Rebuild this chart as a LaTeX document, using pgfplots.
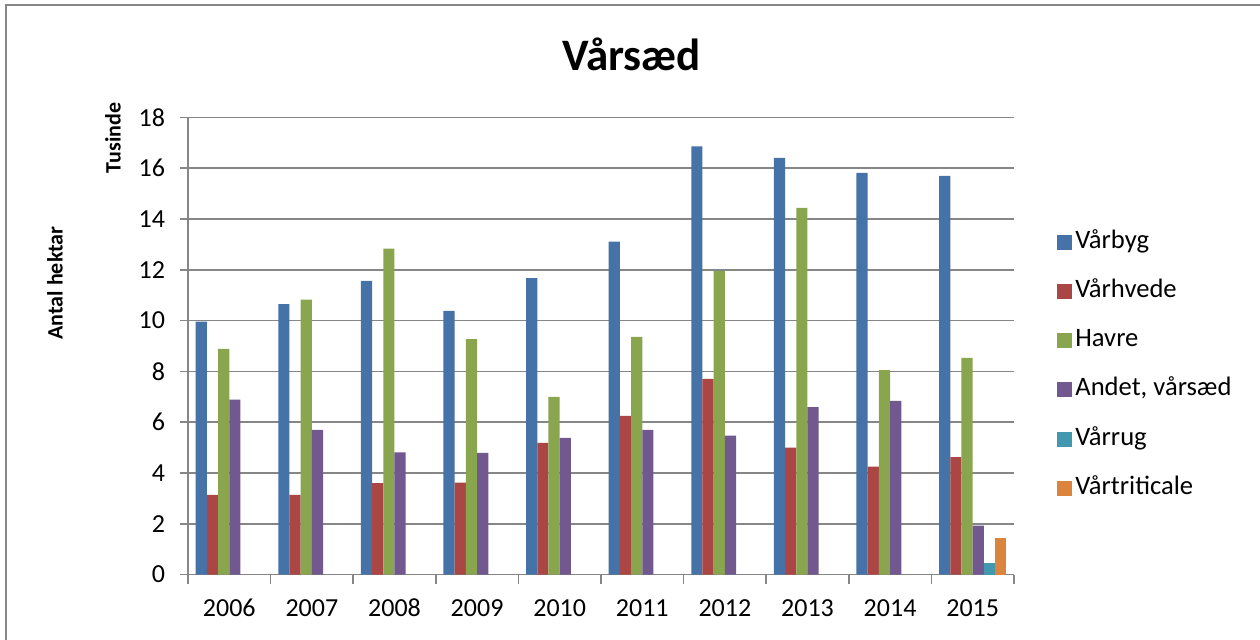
\documentclass[border=0pt]{standalone}
\usepackage{pgfplots}
\pgfplotsset{compat=1.18}
\usepackage{fontspec}
\setmainfont{Carlito}

\definecolor{cBlue}{HTML}{4572A7}
\definecolor{cRed}{HTML}{AA4643}
\definecolor{cGreen}{HTML}{89A54E}
\definecolor{cPurple}{HTML}{71588F}
\definecolor{cTeal}{HTML}{4198AF}
\definecolor{cOrange}{HTML}{DB843D}
\definecolor{cGrid}{HTML}{868686}

\begin{document}
\begin{tikzpicture}
\path[use as bounding box] (0,0) rectangle (630pt,319.5pt);
\draw[cGrid, line width=1pt] (3pt,-2pt) -- (3pt,317pt) -- (632pt,317pt);

\begin{axis}[
    at={(94pt,32.25pt)}, anchor=south west,
    scale only axis,
    width=413pt, height=228.5pt,
    xmin=-0.5, xmax=9.5,
    ymin=0, ymax=18,
    xtick={0,...,9},
    xticklabels={2006,2007,2008,2009,2010,2011,2012,2013,2014,2015},
    minor xtick={-0.5,0.5,...,9.5},
    ytick={0,2,...,18},
    axis x line*=bottom, axis y line*=left,
    axis line style={cGrid, line width=0.8pt, -},
    ymajorgrids, grid style={cGrid, line width=0.8pt},
    tick align=outside,
    major x tick style={draw=none},
    minor x tick style={cGrid, line width=0.8pt},
    y tick style={cGrid, line width=0.8pt},
    major tick length=4pt, minor tick length=4.5pt,
    tick label style={font=\fontsize{13}{15}\selectfont},
    /pgf/number format/assume math mode=true,
    yticklabel style={xshift=-4pt},
    xticklabel style={anchor=north, text height=9pt, text depth=0pt, yshift=-4.5pt},
    clip=false,
    ybar=0pt, bar width=0.1356,
    legend style={at={(1.052,0.458)}, anchor=west, draw=none, fill=none,
        font=\fontsize{13.3}{15}\selectfont, row sep=9.6pt, inner sep=0pt,
        nodes={inner sep=1.5pt, text height=9pt, text depth=3pt}},
    legend cell align=left,
    legend image code/.code={\fill[#1] (0pt,-3.75pt) rectangle (7.5pt,3.75pt);},
    every legend entry/.append style={xshift=1pt},
]
\addplot[fill=cBlue, draw=none, bar shift=-0.339] coordinates {
    (0,9.96) (1,10.65) (2,11.57) (3,10.38) (4,11.67)
    (5,13.11) (6,16.86) (7,16.41) (8,15.82) (9,15.70)};
\addlegendentry{Vårbyg}
\addplot[fill=cRed, draw=none, bar shift=-0.2034] coordinates {
    (0,3.14) (1,3.14) (2,3.60) (3,3.62) (4,5.18)
    (5,6.25) (6,7.71) (7,5.00) (8,4.25) (9,4.62)};
\addlegendentry{Vårhvede}
\addplot[fill=cGreen, draw=none, bar shift=-0.0678] coordinates {
    (0,8.89) (1,10.83) (2,12.84) (3,9.27) (4,7.00)
    (5,9.36) (6,11.95) (7,14.44) (8,8.05) (9,8.53)};
\addlegendentry{Havre}
\addplot[fill=cPurple, draw=none, bar shift=0.0678] coordinates {
    (0,6.89) (1,5.70) (2,4.81) (3,4.79) (4,5.38)
    (5,5.70) (6,5.47) (7,6.59) (8,6.84) (9,1.93)};
\addlegendentry{Andet, vårsæd}
\addplot[fill=cTeal, draw=none, bar shift=0.2034] coordinates {(9,0.47)};
\addlegendentry{Vårrug}
\addplot[fill=cOrange, draw=none, bar shift=0.339] coordinates {(9,1.42)};
\addlegendentry{Vårtriticale}

\node[rotate=90, font=\bfseries\fontsize{11}{13}\selectfont]
    at ([xshift=-66.5pt]rel axis cs:0,0.638) {Antal hektar};
\node[rotate=90, font=\bfseries\fontsize{11}{13}\selectfont]
    at ([xshift=-37.5pt]rel axis cs:0,0.955) {Tusinde};
\end{axis}

\node[anchor=base, font=\bfseries\fontsize{22.5}{26}\selectfont]
    at (315.75pt,284.15pt) {Vårsæd};
\end{tikzpicture}
\end{document}
